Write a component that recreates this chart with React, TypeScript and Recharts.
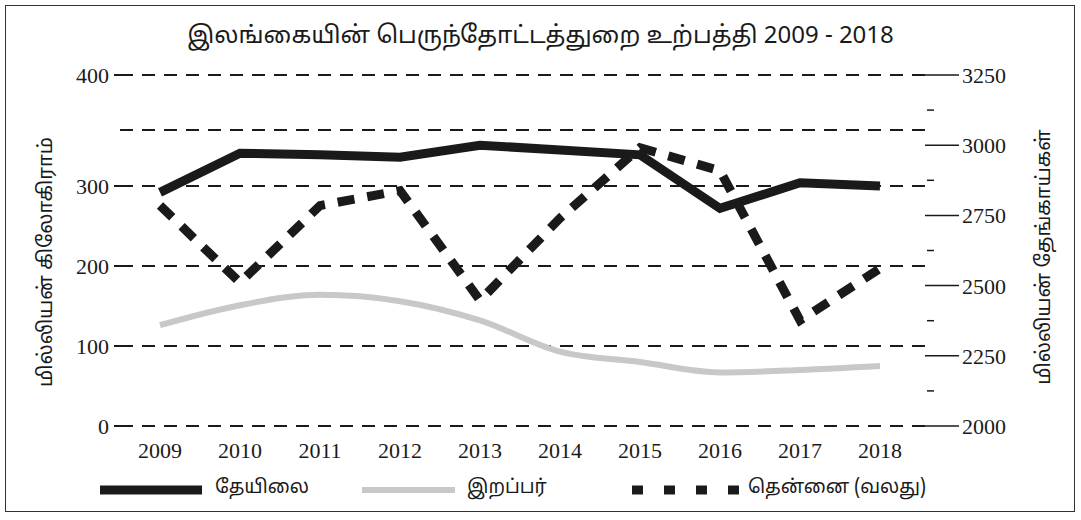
import { LineChart, Line, XAxis, YAxis, ReferenceLine } from "recharts"

const years = ["2009", "2010", "2011", "2012", "2013", "2014", "2015", "2016", "2017", "2018"]
const tea = [292, 341, 339, 336, 351, 345, 339, 272, 304, 300]
const rubber = [126, 151, 164, 156, 132, 93, 80, 67, 70, 75]
const coconut = [2785, 2511, 2785, 2838, 2447, 2740, 2991, 2909, 2376, 2561]

// the printed left scale is uneven: 0-300 is even, 400 sits on the top line
const leftTop = 438.75
const leftTicks = [0, 100, 200, 300, leftTop]
const leftTickLabels = ["0", "100", "200", "300", "400"]
const gridValues = [0, 100, 200, 300, 370, leftTop]
const rightTicks = [2000, 2125, 2250, 2375, 2500, 2625, 2750, 2875, 3000, 3125, 3250]

const data = years.map((y, i) => ({
  year: y,
  tea: tea[i],
  rubber: rubber[i],
  coconut: coconut[i],
}))

const serif = "'Liberation Serif', 'Times New Roman', serif"
const tamil = "'Noto Sans Tamil', 'Latha', 'Liberation Serif', serif"
const ink = "#1a1a1a"

function RightTick(props: any) {
  const { x, y, payload } = props
  const major = payload.value % 250 === 0
  if (!major) {
    return <line x1={x + 2} x2={x + 9} y1={y} y2={y} stroke={ink} strokeWidth={1.5} />
  }
  return (
    <g>
      <line x1={x} x2={x + 34} y1={y} y2={y} stroke={ink} strokeWidth={1.5} />
      <text x={x + 37} y={y + 8} fontSize={22} fill={ink} fontFamily={serif}>
        {payload.value}
      </text>
    </g>
  )
}

function LegendItems() {
  const label = { position: "absolute" as const, top: 476, fontSize: 19, fontFamily: tamil, color: ink }
  return (
    <>
      <svg style={{ position: "absolute", left: 0, top: 480 }} width={1081} height={20}>
        <line x1={100} x2={202} y1={10} y2={10} stroke={ink} strokeWidth={9} />
        <line x1={362} x2={455} y1={10} y2={10} stroke="#c8c8c8" strokeWidth={6} />
        <line x1={632} x2={740} y1={10} y2={10} stroke={ink} strokeWidth={9} strokeDasharray="11 21" />
      </svg>
      <div style={{ ...label, left: 215 }}>தேயிலை</div>
      <div style={{ ...label, left: 467 }}>இறப்பர்</div>
      <div style={{ ...label, left: 748 }}>தென்னை (வலது)</div>
    </>
  )
}

export default function App() {
  return (
    <div
      style={{
        position: "absolute",
        left: 0,
        top: 0,
        width: 1081,
        height: 520,
        background: "#fff",
        overflow: "hidden",
      }}
    >
      <div
        style={{
          position: "absolute",
          left: 5,
          top: 5,
          width: 1068,
          height: 505,
          border: "1.5px solid #333",
        }}
      />
      <div
        style={{
          position: "absolute",
          left: 0,
          width: 1081,
          top: 22,
          textAlign: "center",
          fontSize: 24,
          fontFamily: tamil,
          color: ink,
        }}
      >
        இலங்கையின் பெருந்தோட்டத்துறை உற்பத்தி 2009 - 2018
      </div>
      <div
        style={{
          position: "absolute",
          left: 47,
          top: 262,
          transform: "translate(-50%, -50%) rotate(-90deg)",
          whiteSpace: "nowrap",
          fontSize: 20,
          fontFamily: tamil,
          color: ink,
        }}
      >
        மில்லியன் கிலோகிராம்
      </div>
      <div
        style={{
          position: "absolute",
          left: 1045,
          top: 257,
          transform: "translate(-50%, -50%) rotate(-90deg)",
          whiteSpace: "nowrap",
          fontSize: 20,
          fontFamily: tamil,
          color: ink,
        }}
      >
        மில்லியன் தேங்காய்கள்
      </div>
      <div style={{ position: "absolute", left: 0, top: 0 }}>
        <LineChart
          width={1081}
          height={520}
          data={data}
          margin={{ top: 75, right: 56, bottom: 64, left: 60 }}
        >
          <XAxis
            dataKey="year"
            padding={{ left: 40, right: 45 }}
            axisLine={false}
            tickLine={false}
            tickSize={0}
            tickMargin={16}
            height={30}
            interval={0}
            tick={{ fontSize: 22, fill: ink, fontFamily: serif }}
          />
          <YAxis
            yAxisId="left"
            domain={[0, leftTop]}
            ticks={leftTicks}
            tickFormatter={(v: number) => leftTickLabels[leftTicks.indexOf(v)]}
            width={60}
            axisLine={false}
            tickLine={{ stroke: ink, strokeWidth: 2 }}
            tickSize={6}
            tickMargin={5}
            tick={{ fontSize: 22, fill: ink, fontFamily: serif }}
          />
          <YAxis
            yAxisId="right"
            orientation="right"
            domain={[2000, 3250]}
            ticks={rightTicks}
            interval={0}
            width={100}
            axisLine={false}
            tickLine={false}
            tickSize={0}
            tickMargin={0}
            tick={<RightTick />}
          />
          {gridValues.map((v) => (
            <ReferenceLine
              key={v}
              yAxisId="left"
              y={v}
              stroke={ink}
              strokeWidth={2}
              strokeDasharray="13 9"
            />
          ))}
          <Line
            yAxisId="left"
            type="monotone"
            dataKey="rubber"
            stroke="#c8c8c8"
            strokeWidth={6}
            dot={false}
            isAnimationActive={false}
          />
          <Line
            yAxisId="left"
            type="linear"
            dataKey="tea"
            stroke={ink}
            strokeWidth={9}
            dot={false}
            isAnimationActive={false}
          />
          <Line
            yAxisId="right"
            type="linear"
            dataKey="coconut"
            stroke={ink}
            strokeWidth={9}
            strokeDasharray="17 13"
            dot={false}
            isAnimationActive={false}
          />
        </LineChart>
      </div>
      <LegendItems />
    </div>
  )
}
